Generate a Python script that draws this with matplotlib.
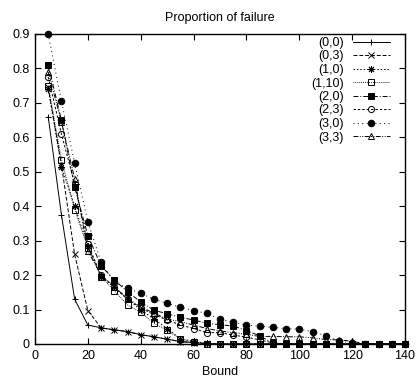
import matplotlib
matplotlib.use("Agg")
import matplotlib.pyplot as plt

plt.rcParams['font.family'] = ['Liberation Sans', 'DejaVu Sans']

bounds = list(range(5, 145, 5))
labels = ["(0,0)", "(0,3)", "(1,0)", "(1,10)", "(2,0)", "(2,3)", "(3,0)", "(3,3)"]

s00 = [0.66, 0.375, 0.13, 0.055, 0.047, 0.041, 0.036, 0.027, 0.021, 0.014, 0.007, 0.004, 0.001] + [0.0] * 15
s03 = [0.745, 0.52, 0.26, 0.097, 0.047, 0.041, 0.036, 0.027, 0.021, 0.014, 0.007, 0.004, 0.001] + [0.0] * 15
s10 = [0.74, 0.515, 0.40, 0.285, 0.195, 0.165, 0.13, 0.10, 0.072, 0.045, 0.015, 0.008, 0.002] + [0.0] * 15
s110 = [0.75, 0.535, 0.39, 0.28, 0.195, 0.155, 0.113, 0.092, 0.06, 0.04, 0.015, 0.005, 0.001] + [0.0] * 15
s20 = [0.81, 0.65, 0.455, 0.315, 0.227, 0.186, 0.152, 0.122, 0.098, 0.088, 0.077, 0.07, 0.06,
       0.056, 0.052, 0.039, 0.024, 0.002] + [0.0] * 10
s23 = [0.775, 0.61, 0.465, 0.29, 0.2, 0.165, 0.13, 0.105, 0.085, 0.07, 0.055, 0.045, 0.033,
       0.033, 0.026, 0.02, 0.012, 0.003] + [0.0] * 10
s30 = [0.9, 0.705, 0.525, 0.355, 0.237, 0.18, 0.162, 0.147, 0.13, 0.118, 0.107, 0.097, 0.089,
       0.072, 0.063, 0.055, 0.052, 0.048, 0.045, 0.043, 0.036, 0.024, 0.008, 0.003] + [0.0] * 4
s33 = [0.79, 0.645, 0.48, 0.27, 0.2, 0.165, 0.133, 0.107, 0.09, 0.072, 0.065, 0.055, 0.045,
       0.038, 0.033, 0.028, 0.022, 0.022, 0.021, 0.021, 0.018, 0.013, 0.012, 0.008] + [0.0] * 4

series = [s00, s03, s10, s110, s20, s23, s30, s33]

styles = [
    dict(ls='-', marker='+', mfc='black', ms=5),
    dict(ls=(0, (4, 2)), marker='x', mfc='black', ms=4),
    dict(ls=(0, (1.5, 2)), marker=(8, 2, 0), mfc='black', ms=5),
    dict(ls=(0, (0.8, 1.2)), marker='s', mfc='none', ms=4.2),
    dict(ls=(0, (5, 2, 1, 2)), marker='s', mfc='black', ms=4.7),
    dict(ls=(0, (2.5, 2)), marker='o', mfc='none', ms=4.4),
    dict(ls=(0, (1, 3.5)), marker='o', mfc='black', ms=4.7),
    dict(ls=(0, (5, 1.5, 1, 1.5, 1, 1.5)), marker='^', mfc='none', ms=4.4),
]

FS = 9

fig = plt.figure(figsize=(4.18, 3.82), dpi=100)
ax = fig.add_axes([35 / 418, 1 - 344 / 382, 370 / 418, 310 / 382])

for lab, ys, st in zip(labels, series, styles):
    ax.plot(bounds, ys, color='black', lw=0.7, mec='black', mew=0.7, label=lab,
            clip_on=False, **st)

ax.set_xlim(0, 140)
ax.set_ylim(0, 0.9)
ax.set_xticks(range(0, 141, 20))
ax.set_yticks([i / 10 for i in range(10)])
ax.set_yticklabels(["0"] + [f"0.{i}" for i in range(1, 10)])
ax.tick_params(direction='in', length=4, width=0.8, top=True, right=True,
               labelsize=FS, pad=4)
for sp in ax.spines.values():
    sp.set_linewidth(1.0)

ax.set_title("Proportion of failure", fontsize=FS, pad=9)
ax.set_xlabel("Bound", fontsize=FS, labelpad=3)

leg = ax.legend(loc='upper right', bbox_to_anchor=(390 / 418, 1 - 37 / 382),
                bbox_transform=fig.transFigure, frameon=False, markerfirst=False,
                fontsize=FS, handlelength=3.0, handletextpad=0.7, labelspacing=0.12,
                borderpad=0, borderaxespad=0)

fig.savefig("out.png", dpi=100)
